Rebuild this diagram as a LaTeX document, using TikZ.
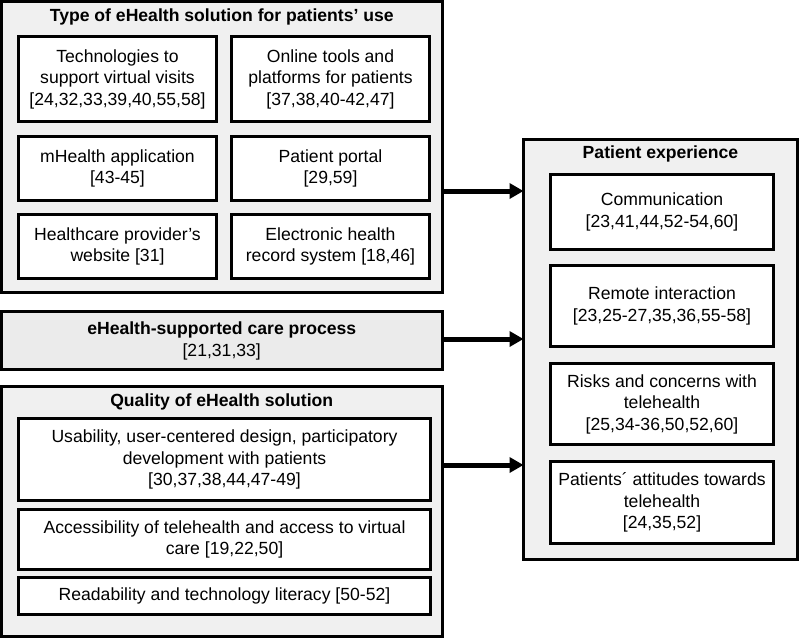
\documentclass[tikz,border=0pt]{standalone}
\usepackage{fontspec}
\setmainfont{Liberation Sans}
\usetikzlibrary{arrows.meta}
\begin{document}
\begin{tikzpicture}[x=1pt,y=-1pt,
  every node/.style={font=\fontsize{17.6}{21.5}\selectfont, align=center, inner sep=0pt, outer sep=0pt},
  frame/.style={draw=black, line width=3pt, fill=outerfill},
  ibox/.style={draw=black, line width=3pt, fill=white},
  ttl/.style={font=\fontsize{17.6}{21.5}\selectfont\bfseries},
  arr/.style={line width=5pt, -{Triangle[length=14pt,width=15pt]}}
]
\definecolor{outerfill}{HTML}{F0F0F0}
\definecolor{midfill}{HTML}{EBEBEB}
\useasboundingbox (0,0) rectangle (800,638);
% outer frames
\draw[frame] (1.5,1.5) rectangle (442,292);
\node[minimum width=440.5pt, minimum height=290.5pt] (typeF) at (221.75,146.75) {};
\draw[frame, fill=midfill] (1.5,311.5) rectangle (442,369.5);
\node[minimum width=440.5pt, minimum height=58pt] (procF) at (221.75,340.5) {};
\draw[frame] (1.5,386.5) rectangle (442,636);
\node[minimum width=440.5pt, minimum height=249.5pt] (qualF) at (221.75,511.25) {};
\draw[frame] (523.5,139.5) rectangle (797.5,559.5);
\node[minimum width=274pt, minimum height=420pt] (expF) at (660.5,349.5) {};
% titles
\node[ttl] (typeT) at (221.75,17) {Type of eHealth solution for patients’ use};
\node (procT) at (221.75,341) {\textbf{eHealth-supported care process}\\{}[21,31,33]};
\node[ttl] (qualT) at (221.75,402) {Quality of eHealth solution};
\node[ttl] (expT) at (660.5,154) {Patient experience};
% type inner boxes
\node[ibox, minimum width=198pt, minimum height=85pt] (t1) at (117.5,79) {Technologies to\\support virtual visits\\{}[24,32,33,39,40,55,58]};
\node[ibox, minimum width=198pt, minimum height=85pt] (t2) at (330.5,79) {Online tools and\\platforms for patients\\{}[37,38,40-42,47]};
\node[ibox, minimum width=198pt, minimum height=64pt] (t3) at (117.5,168.5) {mHealth application\\{}[43-45]};
\node[ibox, minimum width=198pt, minimum height=64pt] (t4) at (330.5,168.5) {Patient portal\\{}[29,59]};
\node[ibox, minimum width=198pt, minimum height=64pt] (t5) at (117.5,246.5) {Healthcare provider’s\\website [31]};
\node[ibox, minimum width=198pt, minimum height=64pt] (t6) at (330.5,246.5) {Electronic health\\record system [18,46]};
% quality inner boxes
\node[ibox, minimum width=412pt, minimum height=82pt] (q1) at (224.5,459.5) {Usability, user-centered design, participatory\\development with patients\\{}[30,37,38,44,47-49]};
\node[ibox, minimum width=412pt, minimum height=60pt] (q2) at (224.5,539.5) {Accessibility of telehealth and access to virtual\\care [19,22,50]};
\node[ibox, minimum width=412pt, minimum height=37pt] (q3) at (224.5,596) {Readability and technology literacy [50-52]};
% experience inner boxes
\node[ibox, minimum width=223pt, minimum height=75pt] (e1) at (662,212) {Communication\\{}[23,41,44,52-54,60]};
\node[ibox, minimum width=223pt, minimum height=81pt] (e2) at (662,306) {Remote interaction\\{}[23,25-27,35,36,55-58]};
\node[ibox, minimum width=223pt, minimum height=81pt] (e3) at (662,404) {Risks and concerns with\\telehealth\\{}[25,34-36,50,52,60]};
\node[ibox, minimum width=223pt, minimum height=82pt] (e4) at (662,502.5) {Patients´ attitudes towards\\telehealth\\{}[24,35,52]};
% arrows
\coordinate (a1) at (0,191);
\coordinate (a3) at (0,465);
\draw[arr] (typeF.east |- a1) -- (expF.west |- a1);
\draw[arr] (procF.east |- 0,339) -- (expF.west |- 0,339);
\draw[arr] (qualF.east |- a3) -- (expF.west |- a3);
\end{tikzpicture}
\end{document}
